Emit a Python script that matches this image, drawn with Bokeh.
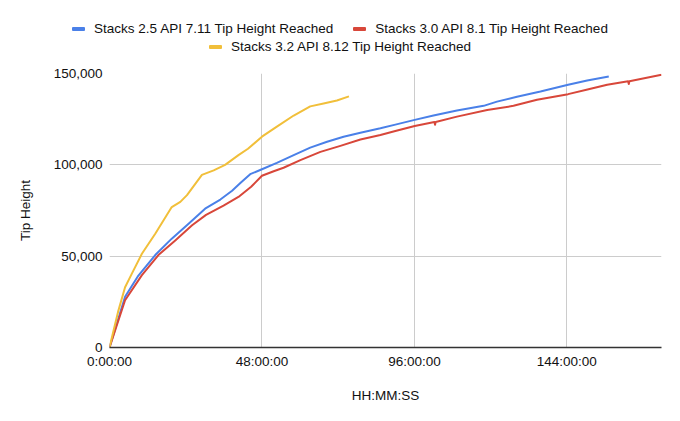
from bokeh.plotting import figure
from bokeh.layouts import column
from bokeh.models import Range1d, FixedTicker, NumeralTickFormatter, Div
from bokeh.embed import file_html
from bokeh.resources import INLINE

# ---- data (hours elapsed, tip height) ----
s25_hours = [0, 4.9, 9.1, 14.4, 19.6, 24.9, 30.1, 34.9, 38.6, 41.2, 44.3, 48.0, 52.7, 58.0,
             63.2, 68.5, 73.7, 79.0, 85.3, 90.0, 96.1, 102.0, 109.4, 117.8, 122.0, 128.3,
             135.7, 144.4, 150.4, 157.2]
s25_height = [0, 27800, 39400, 50600, 59600, 67800, 76000, 81000, 85800, 90000, 94900, 97600,
              101100, 105300, 109400, 112600, 115400, 117600, 120000, 122000, 124600, 127000,
              129800, 132300, 134600, 137300, 140100, 143800, 146200, 148400]

s30_hours = [0, 4.9, 10.2, 15.4, 20.7, 26.0, 30.4, 35.9, 40.6, 44.6, 48.0, 51.7, 54.8, 60.1,
             66.4, 72.7, 79.0, 85.3, 90.0, 96.1, 102.3, 102.5, 102.7, 109.4, 118.9, 127.2,
             134.6, 144.4, 150.5, 156.7, 163.3, 163.5, 163.7, 173.8]
s30_height = [0, 25900, 39600, 50600, 58600, 66900, 72600, 77700, 82400, 88000, 94000, 96500,
              98400, 102600, 107100, 110400, 113900, 116300, 118500, 121300, 123400, 121900,
              123500, 126400, 130000, 132300, 135600, 138700, 141200, 143800, 145700, 144200,
              145800, 149300]

s32_hours = [0, 2.8, 4.9, 7.0, 10.2, 14.4, 19.6, 22.3, 24.4, 29.1, 32.8, 36.4, 40.6, 43.6,
             48.0, 52.7, 58.0, 63.2, 67.4, 71.6, 75.4]
s32_height = [0, 20200, 33000, 40300, 51300, 62300, 76900, 79700, 83400, 94500, 97000, 100000,
              105300, 108800, 115400, 120900, 127000, 132000, 133600, 135200, 137500]

series_labels = ["Stacks 2.5 API 7.11 Tip Height Reached",
                 "Stacks 3.0 API 8.1 Tip Height Reached",
                 "Stacks 3.2 API 8.12 Tip Height Reached"]

x_tick_values = [0, 48, 96, 144]
x_tick_labels = ["0:00:00", "48:00:00", "96:00:00", "144:00:00"]
y_tick_values = [0, 50000, 100000, 150000]

# ---- styling ----
BLUE, RED, YELLOW = "#4a80e8", "#d8473a", "#f1bf3a"
series_colors = [BLUE, RED, YELLOW]
FONT = "Liberation Sans"
FS = "13.5px"
TXT = "#111111"


# ---- legend (two centred rows, as in the reference) ----
def legend_item(label, color):
    return ('<span style="display:inline-flex;align-items:center;white-space:nowrap;">'
            f'<span style="display:inline-block;width:13px;height:4px;border-radius:1px;'
            f'background:{color};margin-right:9px;"></span>{label}</span>')


def legend_row(top, idxs):
    items = "".join(legend_item(series_labels[i], series_colors[i]) for i in idxs)
    return (f'<div style="position:absolute;left:0;top:{top}px;width:680px;height:16px;'
            'display:flex;justify-content:center;align-items:center;gap:20px;">'
            f'{items}</div>')


legend_html = (f'<div style="position:relative;width:680px;height:60px;font-family:\'{FONT}\';'
               f'font-size:{FS};color:{TXT};line-height:16px;">'
               + legend_row(21, [0, 1]) + legend_row(39, [2]) + '</div>')
legend_div = Div(text=legend_html, width=680, height=60, margin=0)

# ---- main chart ----
x_max = max(s25_hours[-1], s30_hours[-1], s32_hours[-1])
p = figure(width=680, height=361, output_backend="svg", toolbar_location=None,
           x_range=Range1d(0, x_max), y_range=Range1d(0, y_tick_values[-1]),
           min_border_left=109, min_border_right=19, min_border_top=13, min_border_bottom=74)
p.background_fill_color = "white"
p.border_fill_color = "white"
p.outline_line_color = None
p.margin = 0

p.line(s25_hours, s25_height, line_color=BLUE, line_width=2, line_join="round")
p.line(s30_hours, s30_height, line_color=RED, line_width=2, line_join="round")
p.line(s32_hours, s32_height, line_color=YELLOW, line_width=2, line_join="round")

p.xaxis.ticker = FixedTicker(ticks=x_tick_values)
p.xaxis.major_label_overrides = {v: l for v, l in zip(x_tick_values, x_tick_labels)}
p.yaxis.ticker = FixedTicker(ticks=y_tick_values)
p.yaxis.formatter = NumeralTickFormatter(format="0,0")
p.xgrid.ticker = FixedTicker(ticks=x_tick_values)
p.ygrid.ticker = FixedTicker(ticks=y_tick_values)
for g in (p.xgrid, p.ygrid):
    g.grid_line_color = "#cccccc"
    g.grid_line_width = 1

p.xaxis.axis_label = "HH:MM:SS"
p.yaxis.axis_label = "Tip Height"
for ax in (p.xaxis, p.yaxis):
    ax.major_tick_line_color = None
    ax.minor_tick_line_color = None
    ax.major_tick_out = 0
    ax.major_tick_in = 0
    ax.major_label_text_font = FONT
    ax.major_label_text_font_size = FS
    ax.major_label_text_color = TXT
    ax.axis_label_text_font = FONT
    ax.axis_label_text_font_size = FS
    ax.axis_label_text_color = TXT
    ax.axis_label_text_font_style = "normal"
p.xaxis.axis_line_color = "#333333"
p.xaxis.axis_line_width = 1.5
p.yaxis.axis_line_color = None
p.xaxis.major_label_standoff = 6
p.xaxis.axis_label_standoff = 16
p.yaxis.major_label_standoff = 7
p.yaxis.axis_label_standoff = 18

layout = column(legend_div, p, spacing=0)
open("out.html", "w").write(file_html(layout, INLINE))
